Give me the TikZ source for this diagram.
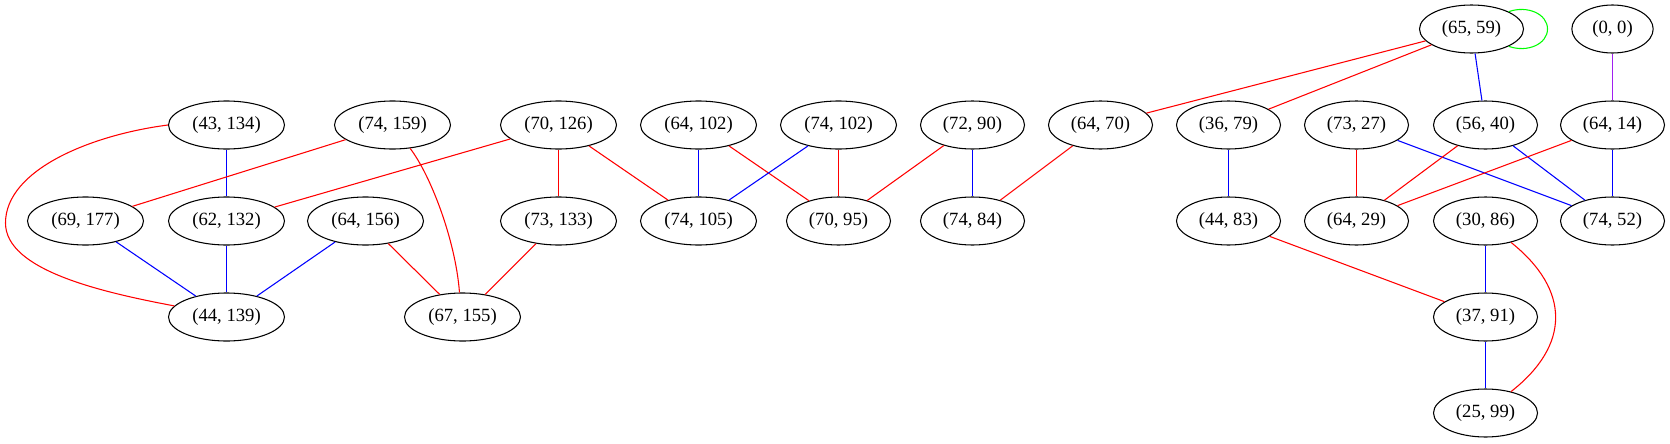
\documentclass[tikz,border=0pt]{standalone}
\usepackage{fontspec}
\setmainfont{Liberation Serif}
\usetikzlibrary{shapes.geometric}
\definecolor{gvred}{RGB}{255,0,0}
\definecolor{gvblue}{RGB}{0,0,255}
\definecolor{gvgreen}{RGB}{0,255,0}
\definecolor{gvpurple}{RGB}{160,32,240}
\begin{document}
\begin{tikzpicture}[x=0.75pt,y=-0.75pt,
  nd/.style={ellipse,draw=black,line width=0.8pt,inner sep=0pt,minimum height=36pt,
    font=\fontsize{14pt}{16pt}\selectfont},
  wide/.style={nd,minimum width=87pt},
  mid/.style={nd,minimum width=78pt},
  narrow/.style={nd,minimum width=61pt},
  ered/.style={draw=gvred,line width=0.8pt},
  eblue/.style={draw=gvblue,line width=0.8pt},
  egreen/.style={draw=gvgreen,line width=0.8pt},
  epurple/.style={draw=gvpurple,line width=0.8pt}]
\useasboundingbox (0,0) rectangle (1670,443);
\begin{scope}[xshift=0.375pt]
% row 0
\node[mid] (n6559) at (1471,29) {(65, 59)};
\node[narrow] (n00) at (1612,29) {(0, 0)};
% row 1
\node[wide] (n43134) at (226,125) {(43, 134)};
\node[wide] (n74159) at (392,125) {(74, 159)};
\node[wide] (n70126) at (558,125) {(70, 126)};
\node[wide] (n64102) at (698,125) {(64, 102)};
\node[wide] (n74102) at (838,125) {(74, 102)};
\node[mid] (n7290) at (972,125) {(72, 90)};
\node[mid] (n6470) at (1100,125) {(64, 70)};
\node[mid] (n3679) at (1228,125) {(36, 79)};
\node[mid] (n7327) at (1356,125) {(73, 27)};
\node[mid] (n5640) at (1485,125) {(56, 40)};
\node[mid] (n6414) at (1612,125) {(64, 14)};
% row 2
\node[wide] (n69177) at (85,221) {(69, 177)};
\node[wide] (n62132) at (226,221) {(62, 132)};
\node[wide] (n64156) at (365,221) {(64, 156)};
\node[wide] (n73133) at (558,221) {(73, 133)};
\node[wide] (n74105) at (698,221) {(74, 105)};
\node[mid] (n7095) at (838,221) {(70, 95)};
\node[mid] (n7484) at (972,221) {(74, 84)};
\node[mid] (n4483) at (1228,221) {(44, 83)};
\node[mid] (n6429) at (1356,221) {(64, 29)};
\node[mid] (n3086) at (1485,221) {(30, 86)};
\node[mid] (n7452) at (1612,221) {(74, 52)};
% row 3
\node[wide] (n44139) at (226,317) {(44, 139)};
\node[wide] (n67155) at (462,317) {(67, 155)};
\node[mid] (n3791) at (1485,317) {(37, 91)};
% row 4
\node[mid] (n2599) at (1485,413) {(25, 99)};
% self loop
\coordinate (looptip) at (1547,29);
\draw[egreen] (n6559.25) .. controls (1527,5) and (1547,14) .. (looptip)
  .. controls (1547,44) and (1527,53) .. (n6559.-25);
% edges
\draw[ered] (n6559) -- (n6470);
\draw[ered] (n6559) -- (n3679);
\draw[eblue] (n6559) -- (n5640);
\draw[epurple] (n00) -- (n6414);
\draw[eblue] (n43134) -- (n62132);
\coordinate (leftmost) at (5,223);
\draw[ered] (n43134.west) .. controls (90,135) and (5,170) .. (leftmost)
  .. controls (5,270) and (100,292) .. (n44139.168);
\draw[ered] (n74159) -- (n69177);
\draw[ered] (n74159.-53.5) .. controls (430,175) and (455,240) .. (n67155.97);
\draw[ered] (n70126) -- (n62132);
\draw[ered] (n70126) -- (n73133);
\draw[ered] (n70126) -- (n74105);
\draw[eblue] (n64102) -- (n74105);
\draw[ered] (n64102) -- (n7095);
\draw[eblue] (n74102) -- (n74105);
\draw[ered] (n74102) -- (n7095);
\draw[ered] (n7290) -- (n7095);
\draw[eblue] (n7290) -- (n7484);
\draw[ered] (n6470) -- (n7484);
\draw[eblue] (n3679) -- (n4483);
\draw[ered] (n7327) -- (n6429);
\draw[eblue] (n7327) -- (n7452);
\draw[ered] (n5640) -- (n6429);
\draw[eblue] (n5640) -- (n7452);
\draw[ered] (n6414) -- (n6429);
\draw[eblue] (n6414) -- (n7452);
\draw[eblue] (n69177) -- (n44139);
\draw[eblue] (n62132) -- (n44139);
\draw[eblue] (n64156) -- (n44139);
\draw[ered] (n64156) -- (n67155);
\draw[ered] (n73133) -- (n67155);
\draw[ered] (n4483) -- (n3791);
\draw[eblue] (n3086) -- (n3791);
\draw[ered] (n3086.-40) .. controls (1570,290) and (1570,345) .. (n2599.40);
\draw[eblue] (n3791) -- (n2599);
\end{scope}
\end{tikzpicture}
\end{document}
